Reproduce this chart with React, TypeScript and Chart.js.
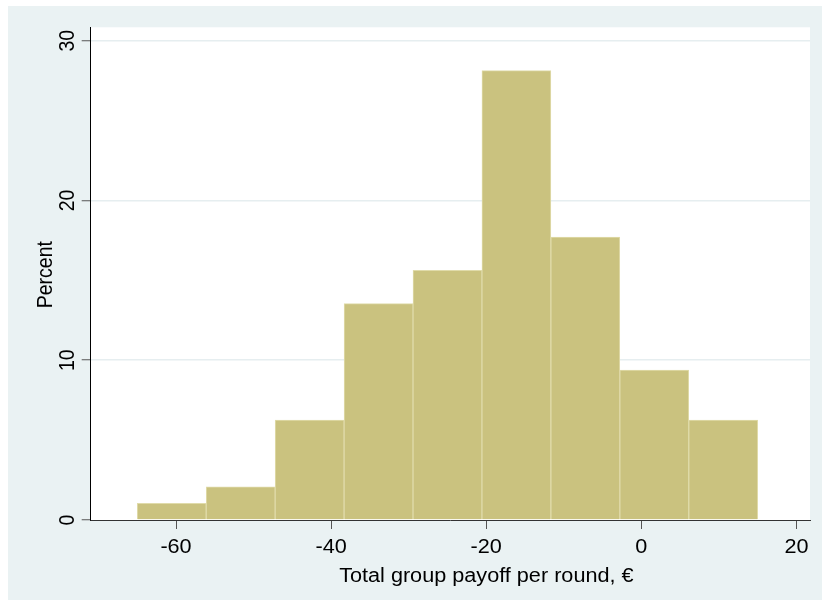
import React, { useEffect, useRef } from "react";
import { Chart, registerables } from "chart.js";

Chart.register(...registerables);

// Histogram bins (edges) and bar heights in percent
const BIN_EDGES = [-65, -56.11, -47.22, -38.33, -29.44, -20.56, -11.67, -2.78, 6.11, 15];
const PERCENT = [1.04, 2.08, 6.25, 13.54, 15.63, 28.13, 17.71, 9.38, 6.25];
const X_TICKS = [-60, -40, -20, 0, 20];
const Y_TICKS = [0, 10, 20, 30];
const X_TITLE = "Total group payoff per round, €";
const Y_TITLE = "Percent";

const BG = "#eaf2f3";
const GRID = "#e6eef0";
const BAR_FILL = "rgb(202,194,127)";
const BAR_EDGE = "rgb(224,219,170)";
const FONT = '19.5px "Liberation Sans", Arial, sans-serif';
const SX = 1.11; // horizontal stretch of the text in the reference

function drawText(ctx: CanvasRenderingContext2D, text: string, x: number, y: number, rotate: boolean) {
  ctx.save();
  ctx.translate(x, y);
  ctx.scale(SX, 1);
  if (rotate) ctx.rotate(-Math.PI / 2);
  ctx.font = FONT;
  ctx.fillStyle = "#000";
  ctx.textAlign = "center";
  ctx.textBaseline = "alphabetic";
  ctx.fillText(text, 0, 0);
  ctx.restore();
}

const framePlugin = {
  id: "stataFrame",
  beforeDraw(chart: any) {
    const { ctx, chartArea: a } = chart;
    ctx.save();
    ctx.fillStyle = "#ffffff";
    ctx.fillRect(0, 0, chart.width, chart.height);
    ctx.fillStyle = BG;
    ctx.fillRect(8, 6, chart.width - 8, chart.height - 6);
    ctx.fillStyle = "#ffffff";
    ctx.fillRect(a.left, a.top, a.right - a.left, a.bottom - a.top);
    ctx.restore();
  },
  afterDraw(chart: any) {
    const { ctx, chartArea: a } = chart;
    const xs = chart.scales.x;
    const ys = chart.scales.y;
    xs.ticks.forEach((t: any) => {
      drawText(ctx, String(t.value), xs.getPixelForValue(t.value), a.bottom + 33.3, false);
    });
    ys.ticks.forEach((t: any) => {
      drawText(ctx, String(t.value), a.left - 17, ys.getPixelForValue(t.value), true);
    });
    drawText(ctx, Y_TITLE, a.left - 39, (a.top + a.bottom) / 2 + 1, true);
    drawText(ctx, X_TITLE, (a.left + a.right) / 2 + 36, a.bottom + 62, false);
  },
};

export default function App() {
  const ref = useRef<HTMLCanvasElement | null>(null);

  useEffect(() => {
    if (!ref.current) return;
    const centers = BIN_EDGES.slice(0, -1).map((e, i) => (e + BIN_EDGES[i + 1]) / 2);
    const chart = new Chart(ref.current, {
      type: "bar",
      data: {
        datasets: [
          {
            data: centers.map((c, i) => ({ x: c, y: PERCENT[i] })),
            backgroundColor: BAR_FILL,
            borderColor: BAR_EDGE,
            borderWidth: 1,
            barPercentage: 1,
            categoryPercentage: 1,
          } as any,
        ],
      },
      options: {
        animation: false,
        responsive: false,
        maintainAspectRatio: false,
        layout: { padding: { left: 8, right: 12, top: 27.3, bottom: 0 } },
        plugins: {
          legend: { display: false },
          tooltip: { enabled: false },
          title: { display: false },
        },
        scales: {
          x: {
            type: "linear",
            min: -71,
            max: 21.74,
            offset: false,
            afterBuildTicks: (s: any) => {
              s.ticks = X_TICKS.map((v) => ({ value: v }));
            },
            afterFit: (s: any) => {
              s.height = 80;
            },
            ticks: { display: false },
            grid: {
              display: true,
              offset: false,
              drawOnChartArea: false,
              drawTicks: true,
              tickLength: 9,
              tickColor: "#555",
              tickWidth: 1,
              color: "#555",
            },
            border: { display: true, color: "#333", width: 1 },
          },
          y: {
            type: "linear",
            min: 0,
            max: 30.84,
            afterBuildTicks: (s: any) => {
              s.ticks = Y_TICKS.map((v) => ({ value: v }));
            },
            afterFit: (s: any) => {
              s.width = 82.7;
            },
            ticks: { display: false },
            grid: {
              color: (c: any) => (c.tick && c.tick.value === 0 ? "rgba(0,0,0,0)" : GRID),
              lineWidth: 1.5,
              drawTicks: true,
              tickLength: 9,
              tickColor: "#555",
              tickWidth: 1,
            },
            border: { display: true, color: "#000", width: 1 },
          },
        } as any,
      },
      plugins: [framePlugin],
    });
    return () => chart.destroy();
  }, []);

  return (
    <>
      <div style={{ position: "fixed", left: 8, top: 6, right: 0, bottom: 0, background: BG }} />
      <div style={{ position: "absolute", left: 0, top: 0, width: 822, height: 600 }}>
        <canvas ref={ref} width={822} height={600} style={{ width: 822, height: 600, display: "block" }} />
      </div>
    </>
  );
}
